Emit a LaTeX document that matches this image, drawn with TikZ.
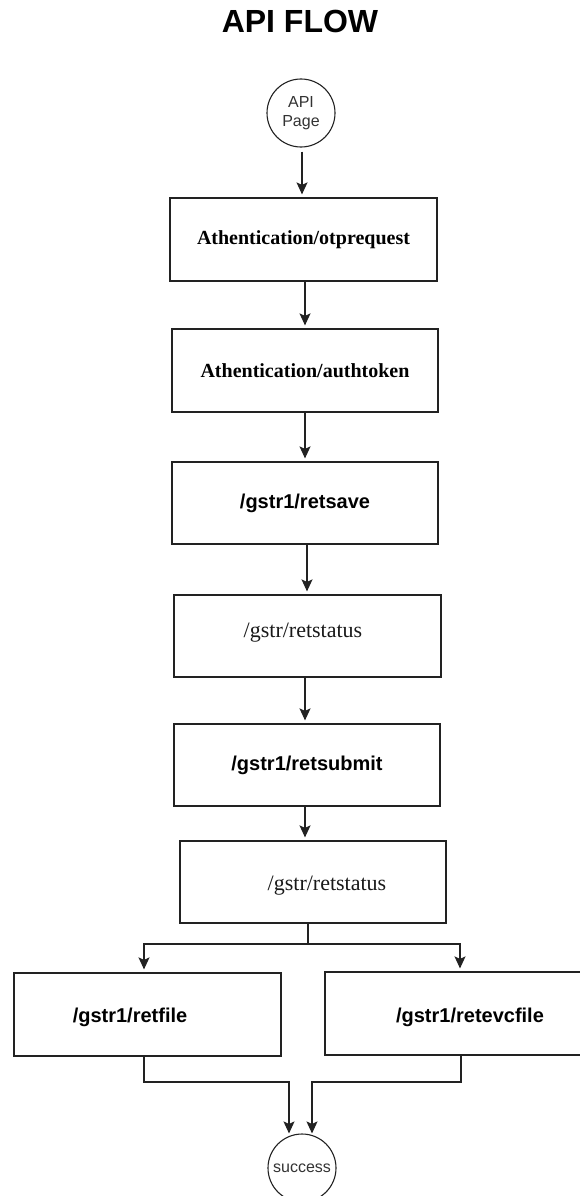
\documentclass[tikz,border=0pt]{standalone}
\usepackage{fontspec}
\setmainfont{Liberation Serif}
\newfontfamily\arialf{Liberation Sans}
\usetikzlibrary{arrows.meta}
\definecolor{linec}{HTML}{222222}
\definecolor{txtgray}{HTML}{333333}
\tikzset{
  boxnode/.style={draw=linec, line width=1.2pt, inner sep=0pt, minimum height=82pt, minimum width=266pt},
  circnode/.style={draw=linec, line width=1.1pt, circle, inner sep=0pt, minimum size=68pt, align=center, text=txtgray, font=\arialf\fontsize{16}{19}\selectfont},
  conn/.style={draw=linec, line width=1.2pt},
  arr/.style={conn, -{Stealth[length=12pt, width=11pt, inset=2.5pt]}, shorten >=3pt},
  serifb/.style={font=\bfseries\fontsize{20}{24}\selectfont},
  serifr/.style={font=\fontsize{22}{26}\selectfont, text=black!90},
  sansb/.style={font=\arialf\bfseries\fontsize{20}{24}\selectfont},
  plain/.style={inner sep=0pt}
}
\begin{document}
\begin{tikzpicture}[x=1pt, y=-1pt]
\useasboundingbox (0,0) rectangle (579,1196);
% title
\node[plain, anchor=base, font=\arialf\bfseries\fontsize{32}{38}\selectfont] (title) at (300,33) {API FLOW};
% start circle
\node[circnode] (start) at (301,113) {API\\Page};
% boxes
\node[boxnode, minimum width=267pt, minimum height=83pt, serifb] (b1) at (303.5,239.5) {\raisebox{-4pt}{Athentication/otprequest}};
\node[boxnode, minimum height=83pt, serifb] (b2) at (305,370.5) {\raisebox{-6pt}{Athentication/authtoken}};
\node[boxnode, sansb] (b3) at (305,503) {/gstr1/retsave};
\node[boxnode, minimum width=267pt] (b4) at (307.5,636) {};
\node[plain, serifr] (t4) at (303,633) {/gstr/retstatus};
\node[boxnode, sansb] (b5) at (307,765) {/gstr1/retsubmit};
\node[boxnode] (b6) at (313,882) {};
\node[plain, serifr] (t6) at (327,886) {/gstr/retstatus};
\node[boxnode, minimum width=267pt, minimum height=83pt] (b7) at (147.5,1014.5) {};
\node[plain, sansb] (t7) at (130,1017) {/gstr1/retfile};
\node[boxnode, minimum width=260pt, minimum height=83pt] (b8) at (455,1013.5) {};
\node[plain, sansb] (t8) at (470,1017) {/gstr1/retevcfile};
% end circle
\node[circnode] (ok) at (302,1168) {success};
% vertical flow
\draw[arr, shorten <=4pt] (302,0 |- start.south) -- (302,0 |- b1.north);
\draw[arr] (305,0 |- b1.south) -- (305,0 |- b2.north);
\draw[arr] (305,0 |- b2.south) -- (305,0 |- b3.north);
\draw[arr] (307,0 |- b3.south) -- (307,0 |- b4.north);
\draw[arr] (305,0 |- b4.south) -- (305,0 |- b5.north);
\draw[arr] (305,0 |- b5.south) -- (305,0 |- b6.north);
% branch
\coordinate (brC) at (308,944);
\coordinate (brL) at (144,944);
\coordinate (brR) at (460,944);
\draw[conn] (brC |- b6.south) -- (brC);
\draw[arr] (brC) -- (brL) -- (brL |- b7.north);
\draw[arr] (brC) -- (brR) -- (brR |- b8.north);
% join
\coordinate (jL) at (144,1082);
\coordinate (jR) at (461,1082);
\coordinate (eL) at (289,1082);
\coordinate (eR) at (312,1082);
\draw[arr, shorten >=0pt] (jL |- b7.south) -- (jL) -- (eL) -- (eL |- ok.north);
\draw[arr, shorten >=0pt] (jR |- b8.south) -- (jR) -- (eR) -- (eR |- ok.north);
\end{tikzpicture}
\end{document}
